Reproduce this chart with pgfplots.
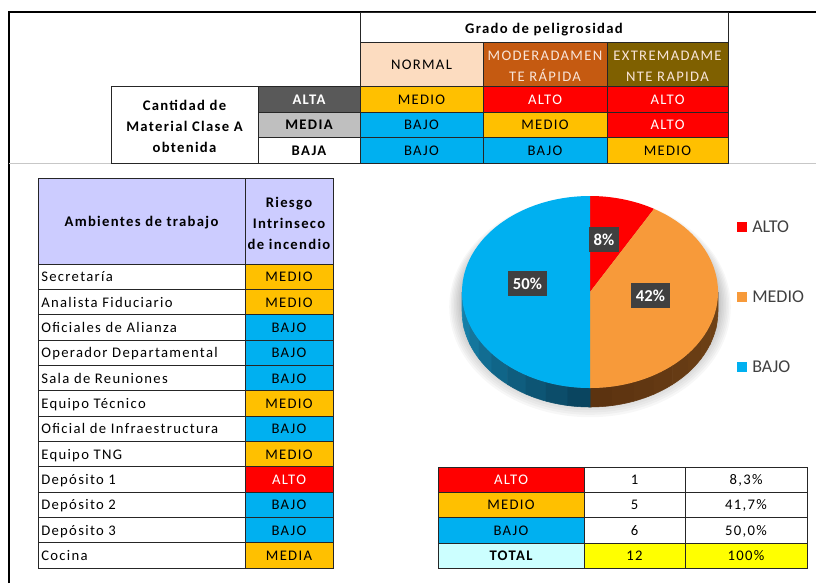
\documentclass[border=0pt]{standalone}
\usepackage{fontspec}
\setmainfont{Carlito}
\newfontfamily\tf{Carlito}[LetterSpace=9]
\usepackage{pgfplots}
\usepackage{pgfplotstable}
\pgfplotsset{compat=1.18}
\definecolor{cRed}{HTML}{FF0000}
\definecolor{cOr}{HTML}{FFC000}
\definecolor{cBl}{HTML}{00B0F0}
\definecolor{cPeach}{HTML}{FCDCC0}
\definecolor{cMod}{HTML}{C55A11}
\definecolor{cExt}{HTML}{7F6000}
\definecolor{cAlta}{HTML}{595959}
\definecolor{cMedia}{HTML}{BFBFBF}
\definecolor{cLav}{HTML}{CCCCFF}
\definecolor{cTot}{HTML}{CCFFFF}
\definecolor{cYel}{HTML}{FFFF00}
\definecolor{pOr}{HTML}{F79A3A}
\definecolor{pBl}{HTML}{00B0F0}
\definecolor{lbl}{HTML}{404040}
\definecolor{hdrTxt}{HTML}{F8E4D8}
\definecolor{sBlL}{HTML}{1786B0}
\definecolor{sBlR}{HTML}{0A4560}
\definecolor{sOrL}{HTML}{5C3310}
\definecolor{sOrR}{HTML}{704317}
% single-line cell: x1 y1 x2 y2 fill textcolor text
\newcommand{\cell}[7]{%
  \filldraw[fill=#5, draw=black!85, line width=0.7pt] (#1,#2) rectangle (#3,#4);
  \node[font={\tf\fontsize{11}{15.5}\selectfont}, text=#6, inner sep=0pt, anchor=base] at ({(#1+#3)/2},{(#2+#4)/2+5.3}) {#7};}
% multi-line cell
\newcommand{\mcell}[7]{%
  \filldraw[fill=#5, draw=black!85, line width=0.7pt] (#1,#2) rectangle (#3,#4);
  \node[font={\tf\fontsize{11}{15.8}\selectfont}, text=#6, inner sep=0pt, align=center] at ({(#1+#3)/2},{(#2+#4)/2+2.2}) {#7};}
\newcommand{\lcell}[5]{%
  \filldraw[fill=white, draw=black!85, line width=0.7pt] (#1,#2) rectangle (#3,#4);
  \node[font={\tf\fontsize{11}{15.5}\selectfont}, inner sep=0pt, anchor=base west] at ({#1+3},{(#2+#4)/2+5.3}) {#5};}
% pie data
\pgfplotstableread{
cat   n
ALTO  1
MEDIO 5
BAJO  6
}\piedata
\begin{document}
\begin{tikzpicture}[x=0.75pt, y=-0.75pt]
\useasboundingbox (0,0) rectangle (816,583);
% frame
\draw[line width=1.6pt] (9,583) -- (9,12) -- (816,12);
\draw[black!22, line width=0.8pt] (9,163.5) -- (816,163.5);
% ===== top table =====
\filldraw[fill=white, draw=black!85, line width=0.7pt] (360,12) rectangle (728,42);
\node[font={\tf\bfseries\fontsize{11}{15.5}\selectfont}, inner sep=0pt, anchor=base] at (544,33.5) {Grado de peligrosidad};
\cell{360}{42}{483}{86}{cPeach}{black}{NORMAL}
\mcell{483}{42}{607}{86}{cMod}{hdrTxt}{MODERADAMEN\\TE RÁPIDA}
\mcell{607}{42}{728}{86}{cExt}{hdrTxt}{EXTREMADAME\\NTE RAPIDA}
\mcell{111}{86}{258}{163}{white}{black}{\bfseries Cantidad de\\\bfseries Material Clase A\\\bfseries obtenida}
\cell{258}{86}{360}{112}{cAlta}{white}{\bfseries ALTA}
\cell{258}{112}{360}{137}{cMedia}{black}{\bfseries MEDIA}
\cell{258}{137}{360}{163}{white}{black}{\bfseries BAJA}
\cell{360}{86}{483}{112}{cOr}{black}{MEDIO}
\cell{483}{86}{607}{112}{cRed}{white}{ALTO}
\cell{607}{86}{728}{112}{cRed}{white}{ALTO}
\cell{360}{112}{483}{137}{cBl}{black}{BAJO}
\cell{483}{112}{607}{137}{cOr}{black}{MEDIO}
\cell{607}{112}{728}{137}{cRed}{white}{ALTO}
\cell{360}{137}{483}{163}{cBl}{black}{BAJO}
\cell{483}{137}{607}{163}{cBl}{black}{BAJO}
\cell{607}{137}{728}{163}{cOr}{black}{MEDIO}
% ===== bottom-left table =====
\filldraw[fill=cLav, draw=black!85, line width=0.7pt] (38,178) rectangle (245,264);
\node[font={\tf\bfseries\fontsize{11}{15.5}\selectfont}, inner sep=0pt, anchor=base] at (141.5,226.5) {Ambientes de trabajo};
\mcell{245}{178}{333}{264}{cLav}{black}{\bfseries Riesgo\\\bfseries Intrinseco\\\bfseries de incendio}
\foreach \n/\r/\c/\t [count=\i from 0] in {%
  Secretaría/MEDIO/cOr/black,
  Analista Fiduciario/MEDIO/cOr/black,
  Oficiales de Alianza/BAJO/cBl/black,
  Operador Departamental/BAJO/cBl/black,
  Sala de Reuniones/BAJO/cBl/black,
  Equipo Técnico/MEDIO/cOr/black,
  Oficial de Infraestructura/BAJO/cBl/black,
  Equipo TNG/MEDIO/cOr/black,
  Depósito 1/ALTO/cRed/white,
  Depósito 2/BAJO/cBl/black,
  Depósito 3/BAJO/cBl/black,
  Cocina/MEDIA/cOr/black}{%
  \pgfmathsetmacro\ya{264+\i*25.33}
  \pgfmathsetmacro\yb{264+(\i+1)*25.33}
  \lcell{38}{\ya}{245}{\yb}{\n}
  \cell{245}{\ya}{333}{\yb}{\c}{\t}{\r}
}
% ===== bottom-right table =====
\cell{438}{467}{584}{492}{cRed}{white}{ALTO}
\cell{584}{467}{685}{492}{white}{black}{1}
\cell{685}{467}{807}{492}{white}{black}{8,3\%}
\cell{438}{492}{584}{517}{cOr}{black}{MEDIO}
\cell{584}{492}{685}{517}{white}{black}{5}
\cell{685}{492}{807}{517}{white}{black}{41,7\%}
\cell{438}{517}{584}{543}{cBl}{black}{BAJO}
\cell{584}{517}{685}{543}{white}{black}{6}
\cell{685}{517}{807}{543}{white}{black}{50,0\%}
\cell{438}{543}{584}{568}{cTot}{black}{\bfseries TOTAL}
\cell{584}{543}{685}{568}{cYel}{black}{12}
\cell{685}{543}{807}{568}{cYel}{black}{100\%}
% ===== pie =====
\pgfplotstablegetelem{0}{n}\of\piedata \let\nA\pgfplotsretval
\pgfplotstablegetelem{1}{n}\of\piedata \let\nM\pgfplotsretval
\pgfplotstablegetelem{2}{n}\of\piedata \let\nB\pgfplotsretval
\pgfmathsetmacro\tot{\nA+\nM+\nB}
\pgfmathsetmacro\aA{90}
\pgfmathsetmacro\aB{90-360*\nA/\tot}
\pgfmathsetmacro\aC{\aB-360*\nM/\tot}
\pgfmathsetmacro\aD{\aC-360*\nB/\tot}
\pgfmathsetmacro\cAx{cos(\aA)}\pgfmathsetmacro\cAy{sin(\aA)}
\pgfmathsetmacro\cBx{cos(\aB)}\pgfmathsetmacro\cBy{sin(\aB)}
\pgfmathsetmacro\cCx{cos(\aC)}\pgfmathsetmacro\cCy{sin(\aC)}
\coordinate (pc) at (590,292);
% shadow
\foreach \k in {1,...,8}{
  \fill[black, opacity=0.03] (590,{302+\k*0.6}) ellipse[x radius={(128+\k*1.6)*0.75pt}, y radius={(96+\k*1.8)*0.75pt}];
}
% side walls (front half), stepped gradient
\foreach \j in {0,...,8}{
  \pgfmathsetmacro\sa{180+\j*10}\pgfmathsetmacro\sb{180+(\j+1)*10}
  \pgfmathtruncatemacro\pc{100-\j*12.5}
  \colorlet{segc}{sBlL!\pc!sBlR}
  \filldraw[fill=segc, draw=segc, line width=0.4pt] ({590+128*cos(\sa)},{292-96*sin(\sa)}) arc[start angle=\sa, end angle=\sb, x radius=96pt, y radius=72pt]
     -- ++(0,19) arc[start angle=\sb, end angle=\sa, x radius=96pt, y radius=72pt] -- cycle;
  \pgfmathsetmacro\ta{270+\j*10}\pgfmathsetmacro\tb{270+(\j+1)*10}
  \colorlet{segd}{sOrL!\pc!sOrR}
  \filldraw[fill=segd, draw=segd, line width=0.4pt] ({590+128*cos(\ta)},{292-96*sin(\ta)}) arc[start angle=\ta, end angle=\tb, x radius=96pt, y radius=72pt]
     -- ++(0,19) arc[start angle=\tb, end angle=\ta, x radius=96pt, y radius=72pt] -- cycle;
}
\begin{axis}[at={(pc)}, anchor=origin, x=96pt, y=72pt, hide axis, clip=false,
  xmin=-1, xmax=1, ymin=-1, ymax=1]
\def\rx{96pt}\def\ry{72pt}
\fill[cRed] (axis cs:0,0) -- (axis cs:\cAx,\cAy) arc[start angle=\aA, end angle=\aB, x radius=\rx, y radius=\ry] -- cycle;
\fill[pOr] (axis cs:0,0) -- (axis cs:\cBx,\cBy) arc[start angle=\aB, end angle=\aC, x radius=\rx, y radius=\ry] -- cycle;
\fill[pBl] (axis cs:0,0) -- (axis cs:\cCx,\cCy) arc[start angle=\aC, end angle=\aD, x radius=\rx, y radius=\ry] -- cycle;
\end{axis}
% data labels
\fill[lbl] (589,227) rectangle (619,252);
\node[text=white, font=\bfseries\fontsize{12.5}{12.5}\selectfont] at (604,239.5) {8\%};
\fill[lbl] (508,271) rectangle (547,296);
\node[text=white, font=\bfseries\fontsize{12.5}{12.5}\selectfont] at (527.5,283.5) {50\%};
\fill[lbl] (631,283) rectangle (670,308);
\node[text=white, font=\bfseries\fontsize{12.5}{12.5}\selectfont] at (650.5,295.5) {42\%};
% legend
\fill[cRed] (737,222) rectangle (747,232);
\node[anchor=west, text=lbl, font=\fontsize{13.5}{13.5}\selectfont, inner sep=0pt] at (752,227) {ALTO};
\fill[pOr] (737,292) rectangle (747,302);
\node[anchor=west, text=lbl, font=\fontsize{13.5}{13.5}\selectfont, inner sep=0pt] at (752,297) {MEDIO};
\fill[pBl] (737,362) rectangle (747,372);
\node[anchor=west, text=lbl, font=\fontsize{13.5}{13.5}\selectfont, inner sep=0pt] at (752,367) {BAJO};
\end{tikzpicture}
\end{document}
